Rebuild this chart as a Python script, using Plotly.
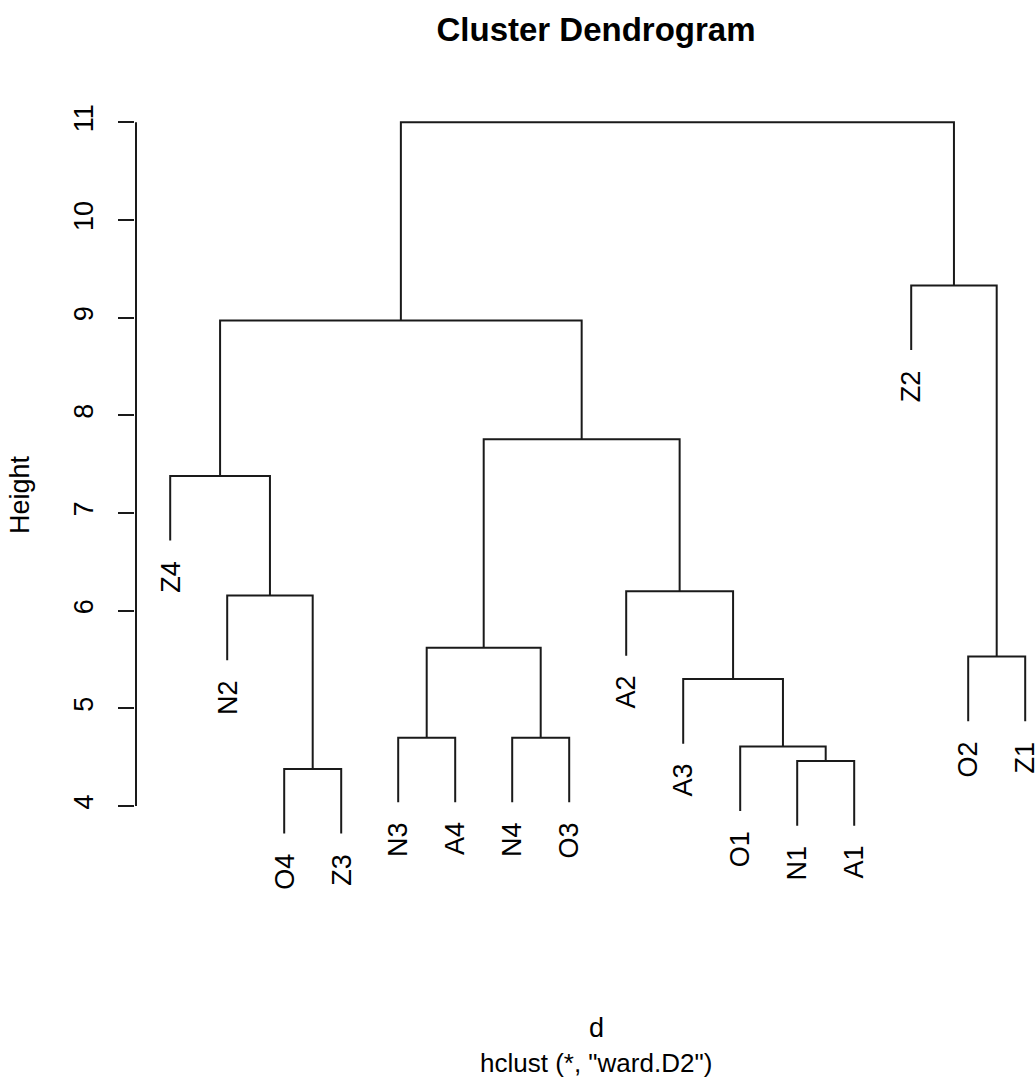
import plotly.graph_objects as go

# Leaves in plotting order (left to right)
leaf_labels = ["Z4", "N2", "O4", "Z3", "N3", "A4", "N4", "O3",
               "A2", "A3", "O1", "N1", "A1", "Z2", "O2", "Z1"]

# Agglomeration steps: a string is a leaf, an int is an earlier step (1-based)
merge_left = ["O4", "N1", "O1", "N3", "N4", "A3", "O2", 4, "N2", "A2", "Z4", 8, 11, "Z2", 13]
merge_right = ["Z3", "A1", 2, "A4", "O3", 3, "Z1", 5, 1, 6, 9, 10, 12, 7, 14]
merge_height = [4.38, 4.46, 4.61, 4.70, 4.70, 5.30, 5.53, 5.62,
                6.155, 6.20, 7.38, 7.755, 8.97, 9.33, 11.0]

height_ticks = [4, 5, 6, 7, 8, 9, 10, 11]

# Leaves hang down by 10% of the height range, as in R's plot.hclust
hang = 0.1 * (max(merge_height) - min(merge_height))

leaf_x = {lab: i + 1 for i, lab in enumerate(leaf_labels)}
node_x, node_h = {}, {}


def position(item):
    if isinstance(item, str):
        return leaf_x[item]
    return node_x[item]


xs, ys = [], []
leaf_tip = {}
for step, (a, b, h) in enumerate(zip(merge_left, merge_right, merge_height), start=1):
    xa, xb = position(a), position(b)
    ya = h - hang if isinstance(a, str) else node_h[a]
    yb = h - hang if isinstance(b, str) else node_h[b]
    for item, yy in ((a, ya), (b, yb)):
        if isinstance(item, str):
            leaf_tip[item] = yy
    xs += [xa, xa, xb, xb, None]
    ys += [ya, h, h, yb, None]
    node_x[step] = (xa + xb) / 2
    node_h[step] = h

font_family = "Liberation Sans, Arial, sans-serif"

fig = go.Figure()
fig.add_trace(go.Scatter(x=xs, y=ys, mode="lines",
                         line=dict(color="#1a1a1a", width=2),
                         hoverinfo="skip", showlegend=False))

# Vertical axis line spanning only the tick range
x_axis_pos = 0.4
fig.add_trace(go.Scatter(x=[x_axis_pos, x_axis_pos],
                         y=[min(height_ticks), max(height_ticks)],
                         mode="lines", line=dict(color="#1a1a1a", width=2),
                         hoverinfo="skip", showlegend=False))

for lab in leaf_labels:
    fig.add_annotation(x=leaf_x[lab], y=leaf_tip[lab], xref="x", yref="y",
                       text=lab, showarrow=False, textangle=-90,
                       xanchor="center", yanchor="top", yshift=-18,
                       font=dict(family=font_family, size=27, color="black"))

x_left = x_axis_pos - 1 / 57
x_right = x_left + 900 / 57
fig.update_xaxes(range=[x_left, x_right], visible=False)
fig.update_yaxes(range=[3.0376, 11.331], tickvals=height_ticks,
                 ticks="outside", ticklen=16, tickwidth=2, tickcolor="#1a1a1a",
                 tickangle=-90, showgrid=False, zeroline=False, showline=False,
                 ticklabelstandoff=14,
                 tickfont=dict(family=font_family, size=27, color="black"),
                 title=dict(text="Height", standoff=31,
                            font=dict(family=font_family, size=27, color="black")))

center_x = (596 - 135) / 900
fig.add_annotation(x=center_x, y=-0.158, xref="paper", yref="paper",
                   text="d", showarrow=False, yanchor="middle",
                   font=dict(family=font_family, size=27, color="black"))
fig.add_annotation(x=center_x, y=-0.201, xref="paper", yref="paper",
                   text='hclust (*, "ward.D2")', showarrow=False, yanchor="middle",
                   font=dict(family=font_family, size=26, color="black"))

fig.update_layout(
    width=1035, height=1079,
    margin=dict(l=135, r=0, t=90, b=179),
    paper_bgcolor="white", plot_bgcolor="white",
    title=dict(text="<b>Cluster Dendrogram</b>", x=596 / 1035, xanchor="center",
               y=1 - 29 / 1079, yanchor="middle",
               font=dict(family=font_family, size=33, color="black")),
)

fig.write_html("out.html")
